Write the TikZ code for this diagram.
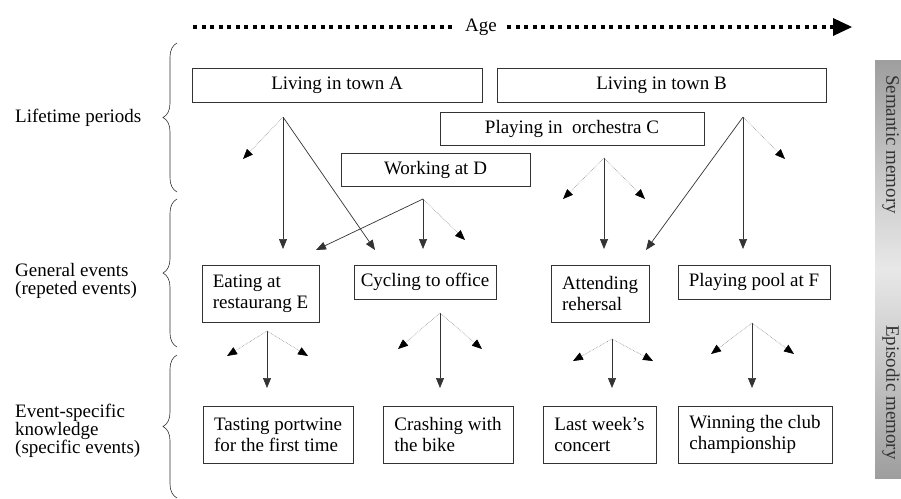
\documentclass[tikz,border=0pt]{standalone}
\usepackage{fontspec}
\setmainfont{Liberation Serif}
\usetikzlibrary{arrows.meta,decorations.pathreplacing}

\tikzset{
  eventbox/.style={draw=black!80, line width=0.6pt, inner sep=0pt, align=left,
                   font=\fontsize{19}{21}\selectfont},
  levellabel/.style={anchor=west, align=left, inner sep=0pt,
                     font=\fontsize{19}{18}\selectfont},
  strong/.style={draw=black!80, line width=0.7pt, -{Triangle[length=10pt,width=8pt]}},
  weak/.style={draw=black!45, line width=0.6pt, densely dotted,
               -{Triangle[length=10pt,width=8pt,color=black]}},
  levelbrace/.style={draw=black!80, line width=0.6pt,
                     decorate, decoration={brace, amplitude=14pt}},
}

\begin{document}
\begin{tikzpicture}[x=1pt,y=-1pt, font=\fontsize{19}{21}\selectfont]
\useasboundingbox (0,0) rectangle (901,498);

% age axis
\coordinate (agestart) at (193,27);
\coordinate (ageend) at (852,27);
\node[inner xsep=10pt] (age) at (481,27) {Age};
\draw[line width=4pt, dash pattern=on 4pt off 4.5pt] (agestart) -- (age.west);
\draw[line width=4pt, dash pattern=on 4pt off 4.5pt,
      -{Triangle[length=19pt,width=18pt,line width=0pt,sep=0pt]}] (age.east) -- (ageend);

% levels
\node[levellabel] (lifetime) at (15,118) {Lifetime periods};
\node[levellabel] (general) at (15,281) {General events\\(repeted events)};
\node[levellabel] (specific) at (15,431) {Event-specific\\knowledge\\(specific events)};
\draw[levelbrace] (177,192) -- (177,43);
\draw[levelbrace] (177,347) -- (177,199);
\draw[levelbrace] (177,498) -- (177,355);

% lifetime periods
\node[eventbox, minimum width=290pt, minimum height=34pt] (townA) at (337,85) {Living in town A};
\node[eventbox, minimum width=329pt, minimum height=34pt] (townB) at (661.5,85) {Living in town B};
\node[eventbox, minimum width=264pt, minimum height=33pt] (orchestra) at (572,128.5) {Playing in\ \ orchestra C};
\node[eventbox, minimum width=189pt, minimum height=33pt] (work) at (435.5,169.5) {Working at D};

% general events
\node[eventbox, minimum width=117pt, minimum height=57pt] (eating) at (260.5,293.5) {Eating at\\restaurang E};
\node[eventbox, minimum width=142pt, minimum height=34pt] (cycling) at (425,282) {Cycling to office};
\node[eventbox, minimum width=98pt, minimum height=57pt] (rehersal) at (600,293.5) {Attending\\rehersal};
\node[eventbox, minimum width=152pt, minimum height=34pt] (pool) at (754,282) {Playing pool at F};

% event-specific knowledge
\node[eventbox, minimum width=150pt, minimum height=57pt] (portwine) at (278,434.5) {Tasting portwine\\for the first time};
\node[eventbox, minimum width=130pt, minimum height=57pt] (crash) at (448,434.5) {Crashing with\\the bike};
\node[eventbox, minimum width=113pt, minimum height=57pt] (concert) at (599.5,434.5) {Last week's\\concert};
\node[eventbox, minimum width=154pt, minimum height=57pt] (club) at (755,434.5) {Winning the club\\championship};

% fan-out points
\coordinate (forkA) at (283,117);
\coordinate (forkB) at (743,117);
\coordinate (forkC) at (604,158);
\coordinate (forkD) at (423,199);
\coordinate (forkE) at (267,331);
\coordinate (forkF) at (440,313);
\coordinate (forkG) at (612,339);
\coordinate (forkH) at (752,323);

% links from lifetime periods
\draw[weak] (forkA) -- (243,159);
\draw[strong] (forkA) -- (283,249);
\draw[strong] (forkA) -- (375,250);
\draw[strong] (forkD) -- (316,250);
\draw[strong] (forkD) -- (423,249);
\draw[weak] (forkD) -- (465,240);
\draw[weak] (forkC) -- (563,199);
\draw[strong] (forkC) -- (604,249);
\draw[weak] (forkC) -- (645,199);
\draw[strong] (forkB) -- (646,250);
\draw[strong] (forkB) -- (743,249);
\draw[weak] (forkB) -- (785,159);

% links from general events
\draw[weak] (forkE) -- (227,356);
\draw[strong] (forkE) -- (267,388);
\draw[weak] (forkE) -- (308,356);
\draw[weak] (forkF) -- (398,349);
\draw[strong] (forkF) -- (440,388);
\draw[weak] (forkF) -- (482,349);
\draw[weak] (forkG) -- (573,361);
\draw[strong] (forkG) -- (612,388);
\draw[weak] (forkG) -- (653,361);
\draw[weak] (forkH) -- (711,354);
\draw[strong] (forkH) -- (752,388);
\draw[weak] (forkH) -- (794,354);

% memory bar
\shade[top color=black!38, bottom color=black!38, middle color=black!9]
  (875,60) rectangle (901,478);
\node[rotate=-90, anchor=south west, inner sep=0pt, text=black!80] (semantic) at (882,75) {Semantic memory};
\node[rotate=-90, anchor=south west, inner sep=0pt, text=black!80] (episodic) at (882,325) {Episodic memory};
\end{tikzpicture}
\end{document}
